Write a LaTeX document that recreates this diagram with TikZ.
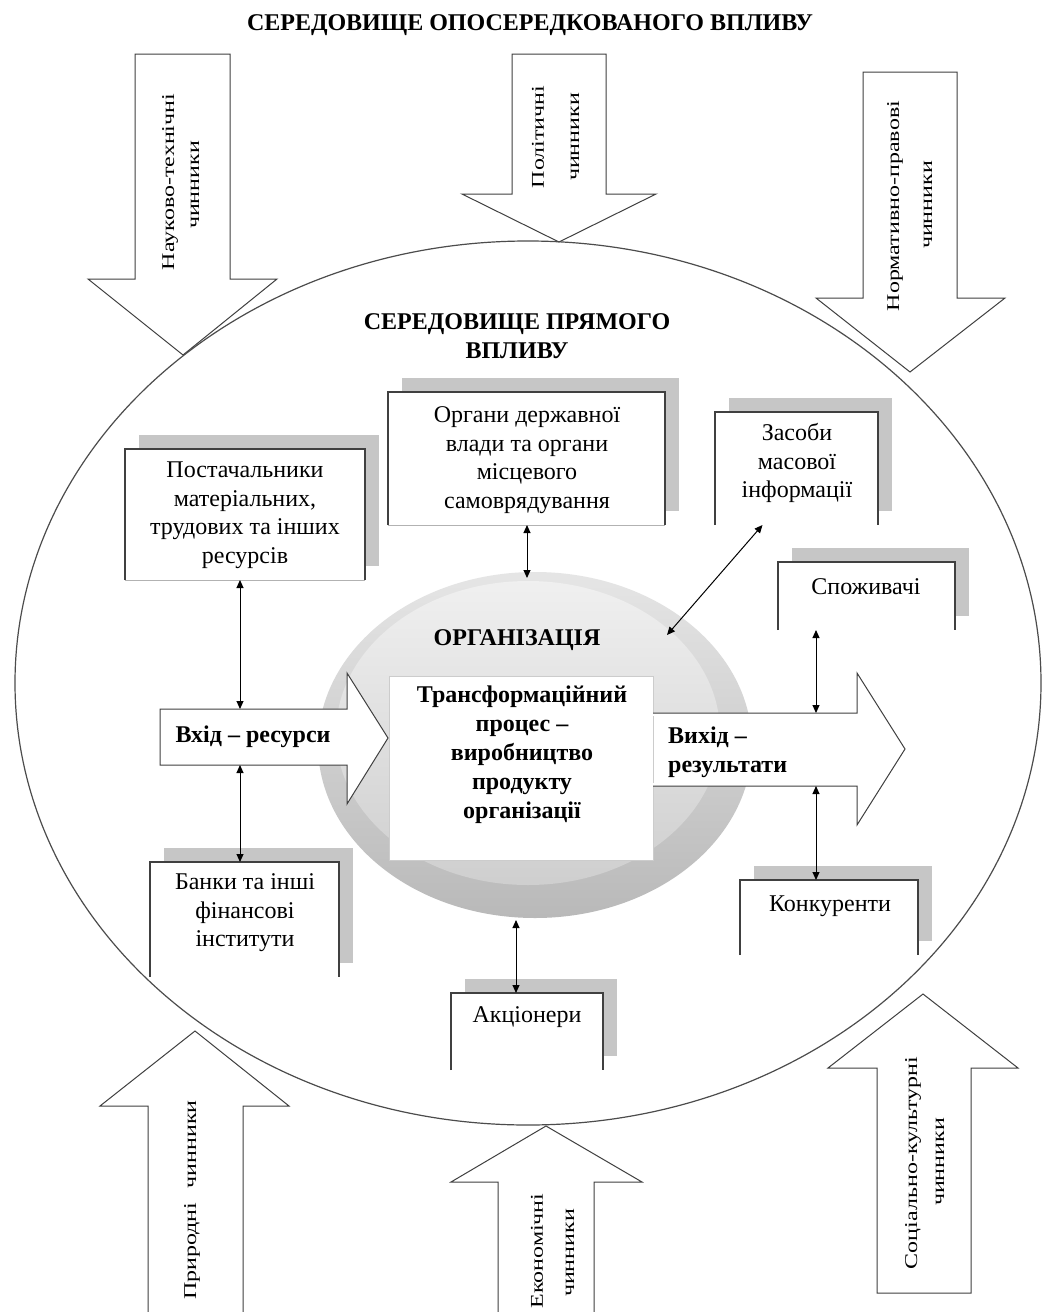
\documentclass[tikz,border=0pt]{standalone}
\usepackage{fontspec}
\setmainfont{Liberation Serif}
\usetikzlibrary{arrows.meta,shapes.geometric}
\newcommand\shadowedbox[5]{%
  \node[frame, minimum width=#4pt, minimum height=#5pt] (#1) at (#2,#3) {};
  \fill[gray!45] ([shift={(14,-14)}]#1.south west) rectangle ([shift={(14,-14)}]#1.north east);
  \fill[white] (#1.south west) rectangle (#1.north east);
  \draw[boxline] (#1.south west) -- (#1.north west) -- (#1.north east) -- (#1.south east);
}
\begin{document}
\begin{tikzpicture}[x=1pt,y=-1pt,
  frame/.style={draw=none, inner sep=0pt, outer sep=0pt},
  boxline/.style={draw=black!75, line width=1.1pt},
  lbl/.style={align=center, inner sep=0pt, font=\fontsize{24}{28.5}\selectfont},
  bld/.style={align=center, inner sep=0pt, font=\fontsize{24}{29}\selectfont\bfseries},
  rot/.style={rotate=90, inner sep=0pt, font=\fontsize{24}{28}\selectfont},
  blk/.style={fill=white, draw=black!75, line width=1pt, line join=miter},
  dbl/.style={{Triangle[length=8pt,width=7pt]}-{Triangle[length=8pt,width=7pt]}, line width=1pt, black}
]
\useasboundingbox (0,0) rectangle (1047,1312);
\fill[white] (0,0) rectangle (1047,1312);

% ---- outer block arrows (down) ----
\draw[blk] (135,54) -- (230,54) -- (230,279) -- (277,279) -- (183,355) -- (88,279) -- (135,279) -- cycle;
\draw[blk] (512,54) -- (606,54) -- (606,194) -- (656,194) -- (559,242) -- (462,194) -- (512,194) -- cycle;
\draw[blk] (863,72) -- (957,72) -- (957,298) -- (1005,298) -- (910,372) -- (816,298) -- (863,298) -- cycle;
% ---- outer block arrows (up) ----
\fill[white] (148,1320) -- (148,1106) -- (100,1106) -- (195,1031) -- (289,1106) -- (243,1106) -- (243,1320) -- cycle;
\draw[blk, fill=none] (148,1320) -- (148,1106) -- (100,1106) -- (195,1031) -- (289,1106) -- (243,1106) -- (243,1320);
\fill[white] (498,1320) -- (498,1182) -- (451,1182) -- (546,1126) -- (642,1182) -- (594,1182) -- (594,1320) -- cycle;
\draw[blk, fill=none] (498,1320) -- (498,1182) -- (451,1182) -- (546,1126) -- (642,1182) -- (594,1182) -- (594,1320);
\draw[blk] (877,1293) -- (877,1068) -- (828,1068) -- (923,994) -- (1018,1068) -- (971,1068) -- (971,1293) -- cycle;

% ---- big ellipse ----
\node[frame, ellipse, minimum width=1026pt, minimum height=884pt] (env) at (528,683) {};
\draw[black!70, line width=1.2pt] (528,683) ellipse [x radius=513pt, y radius=442pt];

% ---- organisation disk ----
\node[frame, ellipse, minimum width=434pt, minimum height=346pt] (disk) at (535,745) {};
\shade[top color=gray!20, bottom color=gray!55] (535,745) ellipse [x radius=217pt, y radius=173pt];
\shade[top color=gray!12, bottom color=gray!38] (528,733) ellipse [x radius=192pt, y radius=152pt];

% ---- transformation box ----
\node[frame, minimum width=264pt, minimum height=184pt, fill=white, draw=gray!40, line width=0.6pt] (proc) at (521,768) {};

% ---- input arrow ----
\draw[blk] (160,709) -- (347,709) -- (347,673) -- (388,738) -- (347,804) -- (347,765) -- (160,765) -- cycle;
% ---- output arrow ----
\fill[white] (653,713) -- (857,713) -- (857,673) -- (905,749) -- (857,825) -- (857,786) -- (653,786) -- cycle;
\draw[blk, fill=none] (653,713) -- (857,713) -- (857,673) -- (905,749) -- (857,825) -- (857,786) -- (653,786);
\draw[gray!40, line width=0.8pt] (653,716) -- (653,783);

% ---- boxes ----
\shadowedbox{sup}{245}{514.5}{240}{131}
\shadowedbox{org}{526.5}{458.5}{277}{133}
\shadowedbox{smi}{796.5}{468.5}{163}{113}
\shadowedbox{spo}{866.5}{596}{177}{68}
\shadowedbox{ban}{244.5}{919.5}{189}{115}
\shadowedbox{akc}{527}{1031.5}{152}{77}
\shadowedbox{kon}{829}{917.5}{178}{75}
\draw[gray!60, line width=0.8pt] (sup.south west) -- (sup.south east);
\draw[gray!60, line width=0.8pt] (org.south west) -- (org.south east);

% ---- texts ----
\node[bld] (title) at (530,25) {СЕРЕДОВИЩЕ ОПОСЕРЕДКОВАНОГО ВПЛИВУ};
\node[bld] (direct) at (517,336) {СЕРЕДОВИЩЕ ПРЯМОГО\\ВПЛИВУ};
\node[lbl] (tsup) at (245,515) {Постачальники\\матеріальних,\\трудових та інших\\ресурсів};
\node[lbl] (torg) at (527,460) {Органи державної\\влади та органи\\місцевого\\самоврядування};
\node[lbl] (tsmi) at (797,463) {Засоби\\масової\\інформації};
\node[lbl] (tspo) at (866,587) {Споживачі};
\node[lbl] (tban) at (245,913) {Банки та інші\\фінансові\\інститути};
\node[lbl] (takc) at (527,1017) {Акціонери};
\node[lbl] (tkon) at (830,906) {Конкуренти};
\node[bld] (torgn) at (517,640) {ОРГАНІЗАЦІЯ};
\node[bld] (tproc) at (522,755) {Трансформаційний\\процес –\\виробництво\\продукту\\організації};
\node[bld] (tin) at (253,737) {Вхід – ресурси};
\node[bld, align=left, anchor=west] (tout) at (668,752) {Вихід –\\результати};

% rotated labels
\node[rot] (ra1) at (170,182) {\scalebox{1}[0.75]{Науково-технічні}};
\node[rot] (ra2) at (195,185) {\scalebox{1}[0.75]{чинники}};
\node[rot] (rb1) at (538,137) {\scalebox{1}[0.75]{Політичні}};
\node[rot] (rb2) at (575,137) {\scalebox{1}[0.75]{чинники}};
\node[rot] (rc1) at (895,206) {\scalebox{1}[0.75]{Нормативно-правові}};
\node[rot] (rc2) at (928,205) {\scalebox{1}[0.75]{чинники}};
\node[rot] (rd1) at (192,1200) {\scalebox{1}[0.75]{Природні\hspace{0.6em}чинники}};
\node[rot] (re1) at (537,1251) {\scalebox{1}[0.75]{Економічні}};
\node[rot] (re2) at (570,1253) {\scalebox{1}[0.75]{чинники}};
\node[rot] (rf1) at (913,1163) {\scalebox{1}[0.75]{Соціально-культурні}};
\node[rot] (rf2) at (940,1162) {\scalebox{1}[0.75]{чинники}};

% ---- connectors ----
\coordinate (inT) at (240,709);
\coordinate (inB) at (240,765);
\coordinate (dT) at (527,578);
\coordinate (dNE) at (667,635);
\coordinate (dB) at (516,920);
\coordinate (outT) at (816,713);
\coordinate (outB) at (816,786);
\draw[dbl] (sup.south -| inT) -- (inT);
\draw[dbl] (inB) -- (inB |- ban.north);
\draw[dbl] (org.south -| dT) -- (dT);
\draw[dbl] (dNE) -- ([xshift=-34pt]smi.south);
\draw[dbl] (spo.south -| outT) -- (outT);
\draw[dbl] (outB) -- (outB |- kon.north);
\draw[dbl] (dB) -- (dB |- akc.north);
\end{tikzpicture}
\end{document}
